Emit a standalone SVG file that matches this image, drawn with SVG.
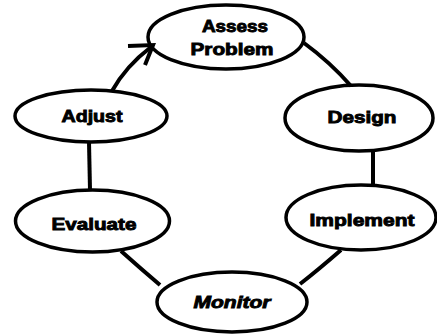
<svg xmlns="http://www.w3.org/2000/svg" width="437" height="335" viewBox="0 0 437 335">
<style>
.node ellipse{fill:#fff;stroke:#000;stroke-width:3.5}
.node text{font-family:"Liberation Sans",Arial,sans-serif;font-weight:bold;font-size:17px;fill:#000;stroke:#000;stroke-width:0.9;text-anchor:middle}
#connectors path{fill:none;stroke:#000;stroke-width:4;stroke-linecap:butt;stroke-linejoin:miter}
</style>
<rect width="437" height="335" fill="#fff"/>
<g id="assess" class="node">
<ellipse cx="226" cy="37" rx="78" ry="32"/>
<text x="235" y="32" font-size="14" textLength="66" lengthAdjust="spacingAndGlyphs">Assess</text>
<text x="232" y="55" textLength="83" lengthAdjust="spacingAndGlyphs">Problem</text>
</g>
<g id="adjust" class="node">
<ellipse cx="91" cy="116" rx="76" ry="26"/>
<text x="92" y="122" textLength="61" lengthAdjust="spacingAndGlyphs">Adjust</text>
</g>
<g id="design" class="node">
<ellipse cx="359" cy="118" rx="74" ry="33"/>
<text x="362" y="123" textLength="69" lengthAdjust="spacingAndGlyphs">Design</text>
</g>
<g id="implement" class="node">
<ellipse cx="361" cy="217.5" rx="75" ry="32.5"/>
<text x="362" y="226" textLength="105" lengthAdjust="spacingAndGlyphs">Implement</text>
</g>
<g id="evaluate" class="node">
<ellipse cx="92.5" cy="221" rx="77" ry="31"/>
<text x="94" y="230" textLength="85" lengthAdjust="spacingAndGlyphs">Evaluate</text>
</g>
<g id="monitor" class="node">
<ellipse cx="232" cy="302" rx="75" ry="30"/>
<text x="232" y="308" font-style="italic" textLength="77" lengthAdjust="spacingAndGlyphs">Monitor</text>
</g>
<g id="connectors">
<path d="M112,91 Q126,66 151,47"/>
<path d="M128,46 L153,45 L145,65"/>
<path d="M304,43 Q330,62 351,86"/>
<path d="M373,152 L373,185"/>
<path d="M341,250 Q318,270 300,284"/>
<path d="M121,251 Q140,268 160,285"/>
<path d="M89,142 L90,190"/>
</g>
</svg>
